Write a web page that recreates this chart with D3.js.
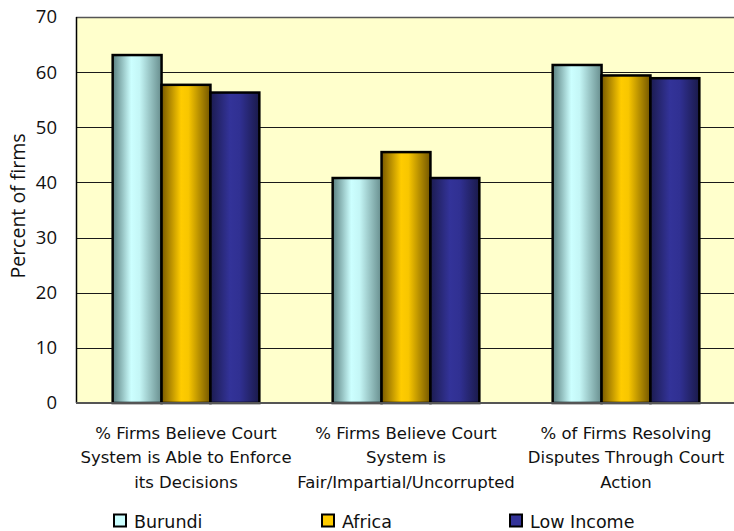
<!DOCTYPE html>
<html><head><meta charset="utf-8">
<script src="https://cdn.jsdelivr.net/npm/d3@7"></script>
<style>body{margin:0;background:#fff;} svg{display:block;}</style>
</head><body>
<script>
const categories = [
  ["% Firms Believe Court", "System is Able to Enforce", "its Decisions"],
  ["% Firms Believe Court", "System is", "Fair/Impartial/Uncorrupted"],
  ["% of Firms Resolving", "Disputes Through Court", "Action"]
];
const seriesNames = ["Burundi", "Africa", "Low Income"];
const burundi = [63.1, 40.8, 61.3];
const africa = [57.7, 45.5, 59.4];
const lowIncome = [56.3, 40.8, 58.9];
const yTicks = [0, 10, 20, 30, 40, 50, 60, 70];

const W = 734, H = 531;
const m = {left: 76, top: 17, right: 736, bottom: 403};
const svg = d3.select("body").append("svg").attr("width", W).attr("height", H);
const defs = svg.append("defs");
const grads = [
  {id: "gB", stops: [[0, "#5a7f7f"], [0.38, "#ccffff"], [0.55, "#c4f6f6"], [1, "#678d8d"]]},
  {id: "gA", stops: [[0, "#785800"], [0.4, "#ffcc00"], [0.55, "#f8c600"], [1, "#735600"]]},
  {id: "gL", stops: [[0, "#1c1c50"], [0.4, "#333399"], [0.6, "#303092"], [1, "#1a1a4a"]]}
];
grads.forEach(g => {
  const lg = defs.append("linearGradient").attr("id", g.id).attr("x1", "0%").attr("x2", "100%").attr("y1", "0%").attr("y2", "0%");
  g.stops.forEach(s => lg.append("stop").attr("offset", s[0]).attr("stop-color", s[1]));
});
const fills = ["url(#gB)", "url(#gA)", "url(#gL)"];
const legendFills = ["#ccffff", "#ffcc00", "#333399"];

const x0 = d3.scaleBand().domain(d3.range(categories.length)).range([m.left, m.right]).paddingInner(0).paddingOuter(0);
const barW = x0.bandwidth() / 4.5;
const x1 = d3.scaleBand().domain(d3.range(3)).range([0, barW * 3]);
const y = d3.scaleLinear().domain([0, 70]).range([m.bottom, m.top]);

svg.append("rect").attr("x", m.left).attr("y", m.top).attr("width", m.right - m.left).attr("height", m.bottom - m.top).attr("fill", "#ffffcc");

svg.append("g").selectAll("line").data(yTicks.filter(t => t > 0 && t < 70)).join("line")
  .attr("x1", m.left).attr("x2", m.right).attr("y1", d => Math.round(y(d)) + 0.5).attr("y2", d => Math.round(y(d)) + 0.5)
  .attr("stroke", "#1a1a1a").attr("stroke-width", 1);
svg.append("line").attr("x1", m.left).attr("x2", m.right).attr("y1", m.top + 0.5).attr("y2", m.top + 0.5).attr("stroke", "#555").attr("stroke-width", 1.5);

const data = [burundi, africa, lowIncome];
const g = svg.append("g");
categories.forEach((c, ci) => {
  const gx = x0(ci) + (x0.bandwidth() - barW * 3) / 2;
  data.forEach((s, si) => {
    g.append("rect")
      .attr("x", gx + x1(si)).attr("y", y(s[ci]))
      .attr("width", x1.bandwidth()).attr("height", y(0) - y(s[ci]))
      .attr("fill", fills[si]).attr("stroke", "#000").attr("stroke-width", 2.5);
  });
});

svg.append("line").attr("x1", m.left + 0.5).attr("x2", m.left + 0.5).attr("y1", m.top).attr("y2", m.bottom).attr("stroke", "#000").attr("stroke-width", 1.5);
svg.append("line").attr("x1", m.left).attr("x2", m.right).attr("y1", m.bottom).attr("y2", m.bottom).attr("stroke", "#555").attr("stroke-width", 2);

const yAxis = d3.axisLeft(y).tickValues(yTicks).tickSize(0).tickPadding(19);
const ya = svg.append("g").attr("transform", `translate(${m.left},0)`).call(yAxis);
ya.select(".domain").remove();
ya.selectAll("text").attr("font-family", "'Open Sans', sans-serif").attr("font-size", 18.5).attr("fill", "#111");

svg.append("text").attr("transform", `translate(25,206) rotate(-90)`).attr("text-anchor", "middle")
  .attr("font-family", "'Open Sans', sans-serif").attr("font-size", 19.5).attr("fill", "#111").text("Percent of firms");

const xa = svg.append("g");
categories.forEach((c, ci) => {
  const cx = x0(ci) + x0.bandwidth() / 2;
  const t = xa.append("text").attr("text-anchor", "middle").attr("font-family", "'DejaVu Sans', sans-serif").attr("font-size", 16.5).attr("fill", "#111");
  c.forEach((line, li) => t.append("tspan").attr("x", cx).attr("y", 438.5 + li * 24.5).text(line));
});

const legX = [114, 322, 510];
seriesNames.forEach((n, i) => {
  svg.append("rect").attr("x", legX[i]).attr("y", 514.5).attr("width", 12).attr("height", 12)
    .attr("fill", legendFills[i]).attr("stroke", "#000").attr("stroke-width", 2);
  svg.append("text").attr("x", legX[i] + 20).attr("y", 528).attr("font-family", "'DejaVu Sans', sans-serif").attr("font-size", 17.5).attr("fill", "#111").text(n);
});
</script>
</body></html>
